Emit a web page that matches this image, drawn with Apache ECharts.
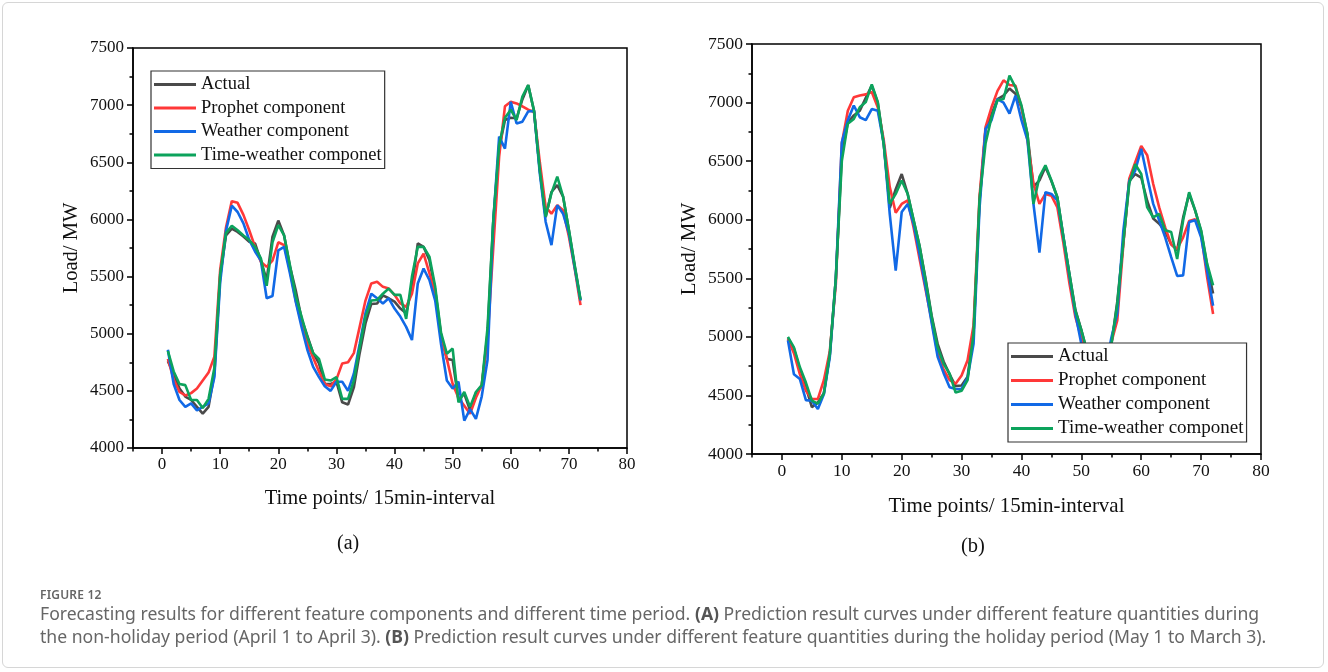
<!DOCTYPE html>
<html>
<head>
<meta charset="utf-8">
<script src="https://cdn.jsdelivr.net/npm/echarts@6/dist/echarts.min.js"></script>
<style>
  html, body { margin:0; padding:0; background:#fff; }
  #wrap { position:relative; width:1328px; height:672px; overflow:hidden; }
  #frame { position:absolute; left:2px; top:2px; width:1322px; height:666px; border:1px solid #d6d6d6; border-radius:6px; box-sizing:border-box; }
  #chart { position:absolute; left:0; top:0; width:1328px; height:672px; }
  #figlabel { position:absolute; left:40px; top:586px; font-family:'Noto Sans', sans-serif; font-size:12px; font-weight:600; color:#666; letter-spacing:0.2px; }
  #caption { position:absolute; left:40px; top:602px; font-family:'Noto Sans', sans-serif; font-size:17.6px; line-height:23px; color:#666; white-space:nowrap; }
  #caption b { color:#555; }
</style>
</head>
<body>
<div id="wrap">
  <div id="frame"></div>
  <div id="chart"></div>
  <div id="figlabel">FIGURE 12</div>
  <div id="caption">Forecasting results for different feature components and different time period. <b>(A)</b> Prediction result curves under different feature quantities during<br>the non-holiday period (April 1 to April 3). <b>(B)</b> Prediction result curves under different feature quantities during the holiday period (May 1 to March 3).</div>
</div>
<script>
// ---- data (time points 1..72, load in MW) ----
const seriesNames = ['Actual', 'Prophet component', 'Weather component', 'Time-weather componet'];

const actualA = [4760,4650,4520,4450,4420,4360,4300,4360,4650,5500,5860,5920,5890,5850,5805,5790,5640,5470,5850,5990,5860,5590,5380,5130,4980,4830,4740,4560,4560,4580,4400,4380,4530,4830,5090,5260,5265,5335,5310,5280,5220,5180,5410,5790,5760,5645,5380,4990,4780,4770,4420,4475,4330,4480,4540,5000,5990,6620,6870,6890,6885,7050,7175,6950,6430,6020,6240,6300,6200,5905,5590,5290];
const prophetA = [4780,4600,4490,4460,4480,4520,4590,4660,4800,5560,5930,6160,6145,6040,5905,5760,5630,5585,5640,5800,5775,5560,5290,5090,4910,4790,4670,4560,4540,4600,4740,4750,4830,5060,5290,5440,5455,5410,5395,5340,5265,5235,5350,5615,5700,5530,5350,4980,4780,4560,4440,4370,4300,4440,4550,4950,5760,6550,6990,7030,7015,6990,6960,6940,6500,6110,6050,6125,6080,5850,5570,5250];
const weatherA = [4860,4560,4420,4360,4390,4330,4360,4390,4620,5450,5900,6120,6065,5965,5820,5720,5640,5310,5330,5730,5760,5530,5280,5060,4860,4710,4620,4540,4500,4580,4580,4500,4650,4910,5180,5350,5310,5265,5310,5220,5150,5060,4945,5440,5570,5470,5290,4910,4590,4520,4580,4240,4340,4255,4450,4770,5990,6725,6620,7030,6840,6855,6945,6950,6400,5980,5775,6125,6050,5880,5580,5290];
const timeWeatherA = [4850,4670,4560,4550,4420,4420,4350,4430,4700,5520,5880,5945,5905,5860,5820,5760,5660,5420,5800,5950,5860,5600,5330,5150,4970,4830,4780,4600,4590,4620,4430,4430,4590,4880,5150,5290,5295,5350,5395,5340,5340,5130,5500,5760,5760,5675,5410,5010,4825,4870,4400,4490,4360,4490,4550,5050,6000,6650,6890,6960,6870,7075,7175,6950,6430,6025,6230,6375,6200,5910,5600,5300];

const actualB = [4990,4900,4720,4570,4400,4440,4520,4850,5500,6560,6830,6890,6930,7040,7145,7000,6650,6100,6260,6390,6220,5990,5770,5490,5180,4940,4790,4680,4580,4585,4660,5030,6160,6770,6900,7030,7060,7120,7075,6960,6730,6280,6335,6450,6330,6190,5850,5540,5230,5060,4860,4720,4650,4700,4930,5300,5800,6330,6390,6360,6160,6010,5965,5900,5790,5740,6020,6220,6080,5900,5610,5370];
const prophetB = [4980,4860,4680,4540,4470,4470,4630,4880,5450,6650,6930,7045,7060,7070,7090,6960,6680,6280,6060,6135,6165,5930,5660,5400,5140,4860,4720,4630,4600,4670,4800,5100,6200,6790,6960,7100,7190,7150,7145,6960,6680,6310,6135,6220,6205,6105,5800,5460,5170,4990,4820,4700,4660,4740,4950,5140,5780,6350,6490,6630,6550,6305,6105,5935,5790,5750,5850,5990,6005,5880,5510,5195];
const weatherB = [4970,4680,4640,4460,4455,4385,4510,4830,5500,6660,6850,6975,6875,6850,6945,6930,6650,6050,5565,6065,6135,5960,5700,5420,5120,4830,4690,4570,4555,4555,4650,4940,6100,6775,6850,7030,7000,6905,7060,6850,6680,6135,5720,6235,6220,6165,5850,5520,5200,4940,4800,4690,4640,4720,4990,5200,5900,6330,6420,6605,6365,6135,5995,5850,5680,5520,5525,5980,5995,5850,5565,5265];
const timeWeatherB = [5000,4910,4740,4610,4455,4430,4515,4855,5500,6500,6820,6860,6960,7005,7155,7005,6640,6135,6220,6335,6220,5995,5770,5480,5170,4910,4770,4685,4525,4540,4630,5030,6180,6650,6875,7020,7030,7230,7130,6975,6730,6135,6365,6465,6335,6190,5855,5540,5225,5055,4870,4730,4660,4710,4930,5280,5800,6310,6475,6390,6105,6020,6050,5910,5895,5665,5995,6235,6080,5910,5625,5440];

const xMajorTicks = [0,10,20,30,40,50,60,70,80];
const xMinorTicks = [-5,5,15,25,35,45,55,65,75];
const panelLabels = ['(a)', '(b)'];
const xTitle = 'Time points/ 15min-interval';
const yTitle = 'Load/ MW';

// ---- styling ----
const colors = ['#4a4a4a', '#ff3838', '#1169e6', '#0ca35c'];
const SERIF = 'Liberation Serif';

function toPairs(arr) { return arr.map((v, i) => [i + 1, v]); }

const panels = [
  { grid: {left:133, top:48, width:494, height:400}, data:[actualA, prophetA, weatherA, timeWeatherA],
    tickFont:17, titleFont:20.5, xGap:40, yGap:51,
    legend:{left:151, top:71, font:18.5, gap:4.5} },
  { grid: {left:752, top:44, width:509, height:410}, data:[actualB, prophetB, weatherB, timeWeatherB],
    tickFont:17.5, titleFont:21, xGap:42, yGap:52,
    legend:{left:1008, top:343, font:19, gap:5} }
];

const grid = [], xAxis = [], yAxis = [], series = [], legend = [];
panels.forEach((p, k) => {
  grid.push(Object.assign({show:true, borderColor:'#000', borderWidth:1.5, backgroundColor:'transparent'}, p.grid));
  const axLine = {show:true, onZero:false, lineStyle:{color:'#000', width:1.5}};
  const richTick = {t:{fontFamily:SERIF, fontSize:p.tickFont, color:'#111'}};
  xAxis.push({
    gridIndex:k, type:'value', min:-5, max:80, position:'bottom',
    axisLine:axLine,
    axisTick:{show:true, customValues:xMajorTicks, length:6, lineStyle:{color:'#000', width:1.5}},
    axisLabel:{show:true, customValues:xMajorTicks, fontFamily:SERIF, fontSize:p.tickFont, color:'#111', margin:8,
               formatter:(v) => '{t|' + v + '}', rich:richTick},
    splitLine:{show:false},
    name:xTitle, nameLocation:'middle', nameGap:p.xGap,
    nameTextStyle:{fontFamily:SERIF, fontSize:p.titleFont, color:'#111'}
  });
  xAxis.push({
    gridIndex:k, type:'value', min:-5, max:80, position:'bottom',
    axisLine:{show:false},
    axisTick:{show:true, customValues:xMinorTicks, length:3.5, lineStyle:{color:'#000', width:1.5}},
    axisLabel:{show:false}, splitLine:{show:false}
  });
  yAxis.push({
    gridIndex:k, type:'value', min:4000, max:7500, interval:500, position:'left',
    axisLine:axLine,
    axisTick:{show:true, length:6, lineStyle:{color:'#000', width:1.5}},
    minorTick:{show:true, splitNumber:2, length:3.5, lineStyle:{color:'#000', width:1.5}},
    axisLabel:{fontFamily:SERIF, fontSize:p.tickFont, color:'#111', margin:9,
               formatter:(v) => '{t|' + v + '}', rich:richTick},
    splitLine:{show:false}, minorSplitLine:{show:false},
    name:yTitle, nameLocation:'middle', nameGap:p.yGap,
    nameTextStyle:{fontFamily:SERIF, fontSize:p.titleFont, color:'#111'}
  });
  p.data.forEach((arr, j) => {
    series.push({
      name:seriesNames[j], type:'line', xAxisIndex:k*2, yAxisIndex:k,
      data:toPairs(arr), showSymbol:false, symbol:'none', smooth:false,
      lineStyle:{color:colors[j], width:2.6}, itemStyle:{color:colors[j]},
      emphasis:{disabled:true}, animation:false, z:2+j*0.1
    });
  });
  legend.push({
    show:true, orient:'vertical', left:p.legend.left, top:p.legend.top,
    data:seriesNames.map((n, j) => ({name:n, icon:'rect', itemStyle:{color:colors[j]}})),
    itemWidth:42, itemHeight:3.2, itemGap:p.legend.gap,
    textStyle:{fontFamily:SERIF, fontSize:p.legend.font, color:'#111', lineHeight:p.legend.font},
    borderColor:'#333', borderWidth:1.2, backgroundColor:'#fff',
    padding:[4, 3, 4, 3], selectedMode:false, z:10
  });
});

const chart = echarts.init(document.getElementById('chart'), null, {renderer:'canvas'});
chart.setOption({
  animation:false,
  backgroundColor:'transparent',
  textStyle:{fontFamily:SERIF},
  grid, xAxis, yAxis, series, legend,
  graphic:[
    {type:'text', left:337, top:534, style:{text:panelLabels[0], fontFamily:SERIF, fontSize:20, fill:'#111'}},
    {type:'text', left:961, top:536, style:{text:panelLabels[1], fontFamily:SERIF, fontSize:20.5, fill:'#111'}}
  ]
});
</script>
</body>
</html>
